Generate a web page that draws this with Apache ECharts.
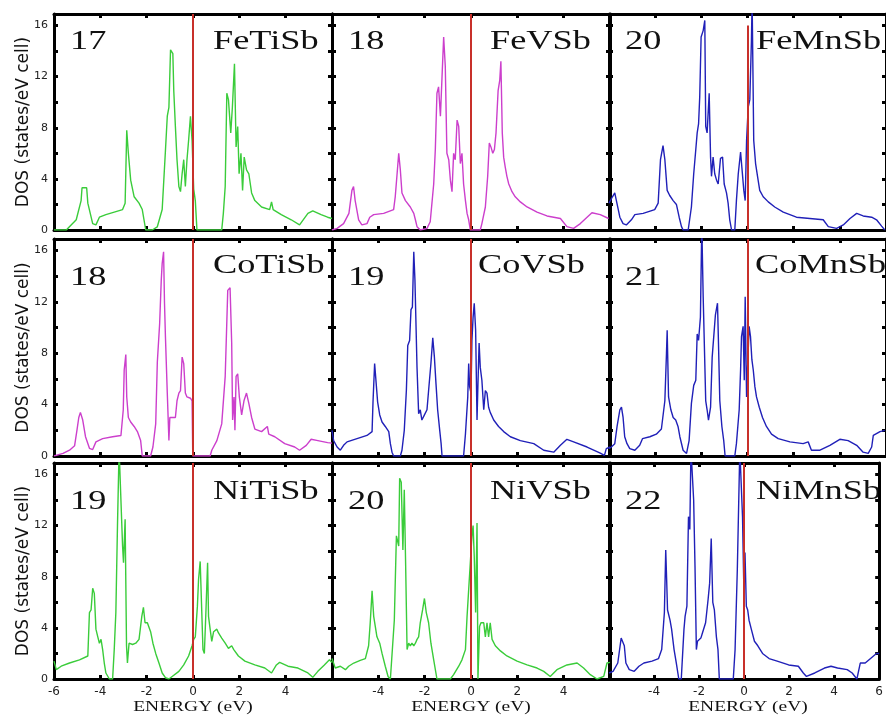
<!DOCTYPE html>
<html><head><meta charset="utf-8">
<script src="https://cdn.jsdelivr.net/npm/echarts@6/dist/echarts.min.js"></script>
<style>html,body{margin:0;padding:0;background:#fff}#c{width:886px;height:716px}</style>
</head><body><div id="c"></div>
<script>
// ---- data (energy eV, DOS states/eV cell) ----
const FeTiSb = [[-6.0,0],[-5.47,0],[-5.04,0.8],[-4.83,2.3],[-4.79,3.3],[-4.59,3.3],[-4.54,2.1],[-4.33,0.5],[-4.19,0.4],[-4.04,1.0],[-3.76,1.2],[-3.04,1.6],[-2.93,2.1],[-2.86,7.8],[-2.79,6.0],[-2.69,3.9],[-2.54,2.6],[-2.33,2.1],[-2.19,1.6],[-2.04,0],[-1.76,0],[-1.54,0.25],[-1.33,1.6],[-1.19,6.2],[-1.11,8.9],[-1.04,9.6],[-0.97,14.1],[-0.87,13.8],[-0.83,10.9],[-0.76,8.1],[-0.69,5.5],[-0.61,3.4],[-0.54,3.0],[-0.47,4.4],[-0.40,5.5],[-0.33,3.4],[-0.26,5.5],[-0.19,7.0],[-0.11,8.9],[-0.04,7.0],[0.03,3.2],[0.10,2.3],[0.17,0],[1.24,0],[1.31,1.3],[1.39,3.4],[1.46,10.7],[1.53,10.2],[1.63,7.6],[1.70,9.6],[1.79,13.0],[1.86,6.5],[1.93,8.1],[1.99,4.4],[2.07,6.0],[2.14,3.1],[2.21,5.7],[2.31,4.7],[2.41,4.4],[2.53,2.9],[2.67,2.3],[2.96,1.8],[3.31,1.6],[3.39,2.2],[3.46,1.6],[3.81,1.2],[4.24,0.8],[4.60,0.4],[4.96,1.3],[5.17,1.5],[5.53,1.2],[5.81,1.0],[6.0,0.9]];
const FeVSb = [[-6.0,0],[-5.78,0.13],[-5.50,0.5],[-5.27,1.3],[-5.14,3.1],[-5.07,3.4],[-5.00,2.3],[-4.85,0.8],[-4.71,0.4],[-4.49,0.5],[-4.37,1.0],[-4.20,1.2],[-3.77,1.3],[-3.34,1.6],[-3.27,2.6],[-3.19,4.4],[-3.12,6.0],[-3.05,4.7],[-2.98,2.9],[-2.83,2.3],[-2.62,1.8],[-2.47,1.3],[-2.40,0.8],[-2.33,0.26],[-2.19,0],[-1.90,0.13],[-1.76,0.65],[-1.61,3.6],[-1.54,6.3],[-1.47,10.7],[-1.40,11.2],[-1.32,8.9],[-1.25,12.0],[-1.18,15.1],[-1.11,12.8],[-1.04,6.0],[-0.96,5.5],[-0.89,3.9],[-0.82,3.0],[-0.75,6.0],[-0.68,5.5],[-0.60,8.6],[-0.53,8.1],[-0.46,5.2],[-0.39,6.0],[-0.32,3.6],[-0.24,2.3],[-0.17,1.3],[-0.10,0.8],[-0.03,0],[0.40,0],[0.47,0.5],[0.62,1.8],[0.72,4.2],[0.79,6.8],[0.86,6.5],[0.94,6.0],[1.01,6.3],[1.08,7.6],[1.17,10.9],[1.24,11.7],[1.29,13.2],[1.35,7.6],[1.41,5.7],[1.48,4.9],[1.55,4.2],[1.63,3.6],[1.77,3.0],[1.91,2.6],[2.13,2.2],[2.42,1.8],[2.85,1.4],[3.28,1.1],[3.86,0.9],[4.14,0.26],[4.43,0.13],[4.72,0.5],[5.01,1.0],[5.22,1.35],[5.58,1.2],[5.94,0.9]];
const FeMnSb = [[-6.0,2.1],[-5.85,2.6],[-5.75,2.9],[-5.68,2.3],[-5.53,1.0],[-5.39,0.5],[-5.25,0.4],[-5.03,0.8],[-4.88,1.2],[-4.52,1.3],[-4.02,1.6],[-3.87,2.1],[-3.77,5.5],[-3.66,6.6],[-3.58,5.5],[-3.48,3.1],[-3.37,2.7],[-3.22,2.3],[-3.08,2.0],[-2.96,1.0],[-2.86,0.26],[-2.79,0],[-2.57,0],[-2.43,1.8],[-2.33,4.4],[-2.24,6.3],[-2.18,7.6],[-2.12,8.3],[-2.07,10.4],[-2.01,15.1],[-1.92,15.6],[-1.85,16.4],[-1.81,8.1],[-1.75,7.6],[-1.66,10.7],[-1.60,5.7],[-1.56,4.2],[-1.49,5.7],[-1.42,4.4],[-1.34,3.9],[-1.27,3.6],[-1.17,5.6],[-1.08,5.7],[-1.01,3.6],[-0.91,2.9],[-0.84,2.1],[-0.77,0.8],[-0.69,0],[-0.55,0],[-0.48,2.3],[-0.40,4.4],[-0.30,6.1],[-0.22,6.0],[-0.16,3.1],[-0.10,2.3],[-0.04,7.0],[0.03,9.6],[0.10,10.2],[0.17,14.8],[0.20,18],[0.24,18],[0.27,7.0],[0.35,5.2],[0.46,3.9],[0.53,3.1],[0.68,2.6],[0.90,2.2],[1.18,1.8],[1.55,1.4],[2.12,1.0],[2.70,0.9],[3.28,0.8],[3.50,0.26],[3.86,0.13],[4.15,0.4],[4.44,0.9],[4.73,1.3],[5.01,1.1],[5.38,1.0],[5.59,0.8],[5.81,0.3],[5.95,0]];
const CoTiSb = [[-6.0,0],[-5.61,0.2],[-5.33,0.45],[-5.11,0.8],[-5.01,2.0],[-4.93,3.0],[-4.86,3.4],[-4.76,2.8],[-4.64,1.5],[-4.47,0.6],[-4.33,0.5],[-4.19,1.1],[-3.90,1.35],[-3.47,1.5],[-3.11,1.6],[-3.01,3.6],[-2.97,6.7],[-2.90,7.9],[-2.86,4.6],[-2.79,3.0],[-2.69,2.65],[-2.54,2.3],[-2.40,1.9],[-2.26,1.2],[-2.19,0],[-1.83,0],[-1.73,0.7],[-1.61,2.5],[-1.54,7.3],[-1.44,10.3],[-1.37,13.7],[-1.33,15.0],[-1.27,15.9],[-1.23,11.9],[-1.19,9.3],[-1.11,4.9],[-1.04,1.2],[-1.00,3.0],[-0.90,3.0],[-0.76,3.0],[-0.69,4.3],[-0.61,4.9],[-0.54,5.1],[-0.47,7.7],[-0.40,7.2],[-0.33,4.9],[-0.26,4.6],[-0.11,4.5],[-0.04,4.3],[-0.01,0],[0.74,0],[0.81,0.45],[1.03,1.2],[1.24,2.5],[1.39,6.2],[1.50,12.9],[1.60,13.1],[1.67,8.8],[1.71,2.8],[1.77,4.6],[1.81,2.0],[1.86,6.2],[1.93,6.4],[2.00,4.6],[2.10,3.2],[2.20,4.3],[2.31,4.9],[2.41,4.1],[2.53,3.0],[2.67,2.1],[2.96,1.9],[3.21,2.3],[3.27,1.7],[3.53,1.5],[3.96,0.96],[4.39,0.7],[4.60,0.45],[4.89,0.83],[5.10,1.3],[5.39,1.2],[5.81,1.04],[6.0,1.0]];
const CoVSb = [[-6.0,2.0],[-5.93,1.2],[-5.78,0.7],[-5.64,0.45],[-5.50,0.83],[-5.35,1.1],[-4.92,1.35],[-4.49,1.6],[-4.27,1.9],[-4.23,4.2],[-4.16,7.2],[-4.09,7.3],[-4.03,4.2],[-3.94,3.2],[-3.84,2.65],[-3.70,2.3],[-3.55,1.9],[-3.48,0.96],[-3.41,0.3],[-3.34,0],[-3.05,0],[-2.98,0.45],[-2.88,2.0],[-2.79,5.1],[-2.73,8.6],[-2.65,9.0],[-2.59,11.4],[-2.53,11.6],[-2.47,15.9],[-2.42,13.7],[-2.36,13.7],[-2.33,6.9],[-2.26,3.3],[-2.19,3.6],[-2.12,2.8],[-2.01,3.2],[-1.90,3.6],[-1.83,5.1],[-1.73,7.2],[-1.65,9.2],[-1.58,7.7],[-1.51,5.6],[-1.44,3.6],[-1.35,2.0],[-1.29,0.96],[-1.25,0],[-0.32,0],[-0.24,1.7],[-0.14,4.6],[-0.10,7.2],[-0.06,5.4],[0.00,4.9],[0.04,9.0],[0.09,10.8],[0.14,11.9],[0.20,9.8],[0.26,2.8],[0.30,5.6],[0.35,8.8],[0.40,6.9],[0.47,5.9],[0.55,3.6],[0.62,5.1],[0.69,4.9],[0.76,3.8],[0.83,3.4],[0.98,2.8],[1.19,2.3],[1.41,1.9],[1.70,1.5],[2.13,1.2],[2.71,0.96],[3.14,0.45],[3.57,0.3],[3.86,0.83],[4.14,1.3],[4.43,1.1],[5.01,0.7],[5.58,0.23],[5.76,0.05],[5.84,0.57],[6.0,0.7]];
const CoMnSb = [[-6.0,0.57],[-5.90,0.7],[-5.75,0.96],[-5.65,2.3],[-5.53,3.6],[-5.46,3.8],[-5.39,3.0],[-5.32,1.5],[-5.22,0.96],[-5.10,0.57],[-4.88,0.45],[-4.67,0.83],[-4.55,1.35],[-4.23,1.5],[-3.95,1.7],[-3.73,2.1],[-3.58,4.3],[-3.51,8.0],[-3.48,9.8],[-3.42,4.6],[-3.32,3.6],[-3.22,3.0],[-3.11,2.8],[-3.01,2.3],[-2.93,1.5],[-2.79,0.45],[-2.64,0.2],[-2.53,1.2],[-2.43,4.1],[-2.33,5.5],[-2.24,5.9],[-2.18,9.5],[-2.12,9.0],[-2.04,10.8],[-1.98,18],[-1.92,12.4],[-1.85,12.4],[-1.81,4.3],[-1.75,3.6],[-1.69,2.8],[-1.60,3.8],[-1.53,7.7],[-1.46,7.7],[-1.39,11.0],[-1.30,11.9],[-1.26,9.0],[-1.20,4.3],[-1.11,2.3],[-1.03,1.2],[-0.97,0],[-0.55,0],[-0.48,0.96],[-0.36,3.6],[-0.30,6.7],[-0.26,9.3],[-0.19,10.1],[-0.14,5.9],[-0.10,12.4],[-0.04,4.6],[0.00,6.7],[0.07,10.1],[0.13,9.3],[0.19,7.5],[0.25,6.7],[0.32,5.4],[0.39,4.6],[0.51,3.8],[0.65,3.0],[0.82,2.3],[1.04,1.7],[1.33,1.35],[1.84,1.1],[2.41,0.96],[2.63,1.1],[2.77,0.45],[3.14,0.45],[3.57,0.83],[4.00,1.3],[4.36,1.2],[4.73,0.83],[5.01,0.3],[5.23,0.2],[5.38,0.7],[5.45,1.6],[5.74,1.9],[5.95,2.0]];
const NiTiSb = [[-6.0,1.4],[-5.9,0.73],[-5.69,1.0],[-5.33,1.25],[-4.9,1.5],[-4.54,1.8],[-4.47,5.2],[-4.40,5.4],[-4.33,7.1],[-4.26,6.7],[-4.19,3.9],[-4.11,3.3],[-4.04,2.8],[-3.97,3.1],[-3.90,2.3],[-3.83,1.25],[-3.76,0.47],[-3.61,0],[-3.47,0],[-3.40,2.3],[-3.33,5.2],[-3.26,12.0],[-3.19,18],[-3.11,18],[-3.04,10.4],[-3.00,9.1],[-2.93,12.5],[-2.87,2.6],[-2.83,1.25],[-2.76,2.8],[-2.61,2.7],[-2.47,2.8],[-2.33,3.1],[-2.21,4.9],[-2.14,5.6],[-2.07,4.4],[-1.97,4.4],[-1.83,3.7],[-1.73,2.8],[-1.61,2.0],[-1.47,1.25],[-1.33,0.47],[-1.19,0.1],[-1.04,0],[-0.90,0.2],[-0.61,0.6],[-0.40,1.1],[-0.19,1.8],[-0.04,2.6],[0.03,3.1],[0.10,3.3],[0.19,5.7],[0.24,7.8],[0.31,9.2],[0.39,9.1],[0.43,2.3],[0.49,2.0],[0.56,5.4],[0.63,9.1],[0.67,4.9],[0.74,3.9],[0.81,2.95],[0.89,3.7],[1.03,3.9],[1.10,3.6],[1.24,3.2],[1.39,2.8],[1.53,2.4],[1.67,2.6],[1.76,2.3],[1.96,1.8],[2.24,1.4],[2.67,1.1],[3.10,0.86],[3.39,0.47],[3.60,1.1],[3.74,1.3],[4.10,1.0],[4.53,0.86],[4.96,0.47],[5.17,0.13],[5.39,0.6],[5.67,1.1],[5.89,1.5],[6.0,1.3]];
const NiVSb = [[-6.0,1.6],[-5.86,0.86],[-5.64,1.0],[-5.42,0.73],[-5.28,1.0],[-5.06,1.25],[-4.78,1.46],[-4.56,1.6],[-4.42,2.6],[-4.35,4.4],[-4.27,6.9],[-4.20,4.9],[-4.13,4.1],[-4.06,3.3],[-3.94,2.8],[-3.84,2.0],[-3.70,1.0],[-3.58,0.2],[-3.48,0],[-3.41,0],[-3.31,4.6],[-3.22,11.2],[-3.12,10.4],[-3.08,15.7],[-3.01,15.4],[-2.94,10.1],[-2.88,14.8],[-2.82,8.8],[-2.76,2.3],[-2.69,2.8],[-2.62,2.6],[-2.55,2.8],[-2.47,2.6],[-2.40,2.8],[-2.33,3.1],[-2.26,3.3],[-2.19,4.4],[-2.09,5.4],[-2.01,6.3],[-1.93,5.2],[-1.83,4.4],[-1.73,2.8],[-1.61,1.5],[-1.47,0],[-0.89,0],[-0.75,0.34],[-0.53,1.0],[-0.39,1.5],[-0.24,2.3],[-0.17,4.9],[-0.10,7.0],[-0.03,9.1],[0.04,11.2],[0.09,12.0],[0.14,9.6],[0.20,5.2],[0.26,12.2],[0.30,0],[0.37,4.1],[0.43,4.4],[0.55,4.4],[0.62,3.3],[0.69,4.4],[0.76,3.3],[0.83,4.4],[0.91,3.1],[1.05,2.6],[1.27,2.2],[1.55,1.8],[1.99,1.4],[2.42,1.1],[2.85,0.86],[3.14,0.6],[3.42,0.2],[3.71,0.73],[4.14,1.1],[4.58,1.25],[4.86,0.86],[5.15,0.34],[5.44,0],[5.73,0.2],[5.87,1.25],[6.0,1.3]];
const NiMnSb = [[-6.0,0.47],[-5.82,0.6],[-5.61,1.25],[-5.46,3.2],[-5.39,3.3],[-5.32,2.6],[-5.25,1.25],[-5.10,0.73],[-4.88,0.6],[-4.67,1.0],[-4.45,1.25],[-4.09,1.4],[-3.80,1.6],[-3.66,2.3],[-3.54,5.2],[-3.48,10.1],[-3.44,7.8],[-3.40,5.4],[-3.29,4.6],[-3.22,3.9],[-3.11,2.3],[-3.01,1.25],[-2.90,0],[-2.79,0],[-2.67,3.9],[-2.62,4.9],[-2.54,5.7],[-2.47,12.7],[-2.41,11.7],[-2.36,18],[-2.28,18],[-2.24,14.0],[-2.18,8.8],[-2.12,2.3],[-2.07,2.95],[-1.92,3.2],[-1.85,3.6],[-1.71,4.4],[-1.60,6.2],[-1.53,7.5],[-1.46,11.0],[-1.39,6.0],[-1.32,5.4],[-1.23,3.3],[-1.16,2.3],[-1.10,0],[-0.48,0],[-0.40,2.3],[-0.30,8.6],[-0.25,8.6],[-0.19,18],[-0.12,18],[-0.07,12.7],[-0.01,7.0],[0.04,9.9],[0.10,5.7],[0.16,5.4],[0.22,4.6],[0.32,3.9],[0.46,2.95],[0.61,2.6],[0.82,2.0],[1.11,1.6],[1.47,1.4],[1.98,1.1],[2.41,1.0],[2.63,0.47],[2.77,0.2],[3.14,0.47],[3.57,0.86],[3.86,1.0],[4.15,0.86],[4.58,0.73],[4.80,0.47],[5.01,0],[5.16,1.25],[5.38,1.25],[5.59,1.57],[5.88,2.0],[6.0,2.0]];

const panelNames = ['FeTiSb','FeVSb','FeMnSb','CoTiSb','CoVSb','CoMnSb','NiTiSb','NiVSb','NiMnSb'];
const panelData = [FeTiSb, FeVSb, FeMnSb, CoTiSb, CoVSb, CoMnSb, NiTiSb, NiVSb, NiMnSb];
const electronCounts = ['17','18','20','18','19','21','19','20','22'];
const colorKeys = ['green','magenta','blue','magenta','blue','blue','green','green','blue'];
const xTickLabelsByCol = [[-6,-4,-2,0,2,4],[-4,-2,0,2,4],[-4,-2,0,2,4,6]];
const yTickLabels = [0,4,8,12,16];
const yAxisTitle = 'DOS (states/eV cell)';
const xAxisTitle = 'ENERGY (eV)';

// ---- layout / style ----
const palette = {green:'#3acc3a', magenta:'#cc3fcc', blue:'#2020b8'};
const RED = '#c8302a';
const colLeft = [54, 332, 609];
const colWidth = 278;
const rowTop = [14, 239, 463];
const rowHeight = [216, 217, 216];
const YMAX = 16.9;
const numBaseline = [51.5, 287, 511];
const nameBaseline = [51, 275, 501];
const nameLeft = [[213,490,756],[213,478,755],[213,490,756]];
const SERIF = '"Liberation Serif","Times New Roman",serif';
const SANS = '"DejaVu Sans",sans-serif';

const grids = [], xAxes = [], yAxes = [], series = [], graphics = [];
for (let i = 0; i < 9; i++) {
  const r = Math.floor(i / 3), c = i % 3;
  grids.push({left: colLeft[c], top: rowTop[r], width: colWidth, height: rowHeight[r], containLabel: false});
  const line = {show: true, onZero: false, lineStyle: {color: '#000', width: 3}};
  const tick = {show: true, inside: true, length: 4, lineStyle: {color: '#000', width: 3}};
  xAxes.push({gridIndex: i, type: 'value', min: -6, max: 6, interval: 2, position: 'bottom',
    axisLine: line, axisTick: tick, splitLine: {show: false},
    axisLabel: {show: r === 2, margin: 7, fontSize: 12, fontFamily: SANS, color: '#222',
      formatter: v => xTickLabelsByCol[c].indexOf(v) >= 0 ? String(v) : ''}});
  xAxes.push({gridIndex: i, type: 'value', min: -6, max: 6, interval: 2, position: 'top',
    axisLine: line, axisTick: tick, splitLine: {show: false}, axisLabel: {show: false}});
  yAxes.push({gridIndex: i, type: 'value', min: 0, max: YMAX, interval: 2, position: 'left',
    axisLine: line, axisTick: tick, splitLine: {show: false},
    axisLabel: {show: c === 0, margin: 6, fontSize: 11, fontFamily: SANS, color: '#222',
      showMaxLabel: false,
      formatter: v => yTickLabels.indexOf(v) >= 0 ? String(v) : ''}});
  yAxes.push({gridIndex: i, type: 'value', min: 0, max: YMAX, interval: 2, position: 'right',
    axisLine: line, axisTick: tick, splitLine: {show: false}, axisLabel: {show: false}});

  const ml = panelNames[i] === 'FeMnSb'
    ? [[{coord: [0, 0]}, {coord: [0, 16]}]]
    : [{xAxis: 0}];
  series.push({type: 'line', name: panelNames[i], xAxisIndex: i * 2, yAxisIndex: i * 2,
    data: panelData[i], showSymbol: false, symbol: 'none', clip: true,
    lineStyle: {color: palette[colorKeys[i]], width: 1.4},
    markLine: {silent: true, symbol: ['none', 'none'], label: {show: false},
      lineStyle: {color: RED, width: 2, type: 'solid'}, data: ml}});

  // labels in panel
  graphics.push({type: 'text', x: colLeft[c] + 16, y: numBaseline[r] - 9, scaleX: 1.37,
    style: {text: electronCounts[i], font: '26.5px ' + SERIF, fill: '#111', align: 'left', verticalAlign: 'middle'}});
  graphics.push({type: 'text', x: nameLeft[r][c], y: nameBaseline[r] - 9, scaleX: 1.37,
    style: {text: panelNames[i], font: '26.5px ' + SERIF, fill: '#111', align: 'left', verticalAlign: 'middle'}});
}
for (let r = 0; r < 3; r++) {
  graphics.push({type: 'text', x: 24, y: rowTop[r] + rowHeight[r] / 2, rotation: Math.PI / 2,
    style: {text: yAxisTitle, font: '17px ' + SANS, fill: '#111', align: 'center', verticalAlign: 'middle'}});
}
for (let c = 0; c < 3; c++) {
  graphics.push({type: 'text', x: colLeft[c] + colWidth / 2, y: 707.5, scaleX: 1.3,
    style: {text: xAxisTitle, font: '15px ' + SERIF, fill: '#111', align: 'center', verticalAlign: 'middle'}});
}

const chart = echarts.init(document.getElementById('c'), null, {renderer: 'canvas'});
chart.setOption({
  animation: false,
  backgroundColor: '#fff',
  grid: grids, xAxis: xAxes, yAxis: yAxes, series: series, graphic: graphics
});
</script></body></html>
